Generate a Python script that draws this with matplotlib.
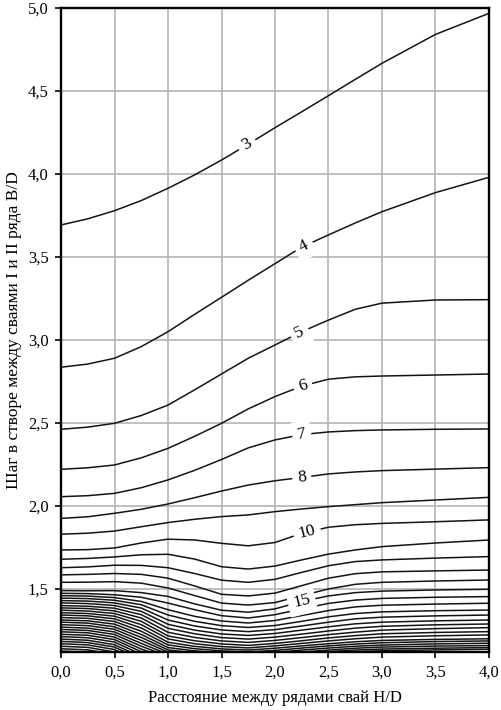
import numpy as np
import matplotlib.pyplot as plt

plt.rcParams['font.family'] = ['Liberation Serif', 'DejaVu Serif']

# узлы по оси H/D
X = [0, 0.25, 0.5, 0.75, 1.0, 1.25, 1.5, 1.75, 2.0, 2.25, 2.5, 2.75, 3.0, 3.5, 4.0]
X_LEFT = [0, 0.25, 0.5, 0.75, 1.0]

# изолинии (B/D в узлах X)
line_3 = [3.693, 3.73, 3.779, 3.84, 3.914, 3.995, 4.084, 4.18, 4.279, 4.375, 4.472, 4.57, 4.667, 4.841, 4.968]
line_4 = [2.836, 2.855, 2.89, 2.96, 3.05, 3.155, 3.257, 3.36, 3.46, 3.56, 3.633, 3.705, 3.773, 3.888, 3.98]
line_5 = [2.462, 2.475, 2.498, 2.545, 2.608, 2.70, 2.795, 2.89, 2.97, 3.05, 3.12, 3.185, 3.222, 3.241, 3.243]
line_6 = [2.221, 2.23, 2.247, 2.29, 2.347, 2.42, 2.498, 2.585, 2.659, 2.722, 2.764, 2.778, 2.783, 2.789, 2.795]
line_7 = [2.056, 2.062, 2.076, 2.11, 2.157, 2.215, 2.28, 2.35, 2.398, 2.43, 2.446, 2.454, 2.458, 2.462, 2.464]
line_8 = [1.925, 1.935, 1.956, 1.98, 2.012, 2.05, 2.09, 2.126, 2.152, 2.172, 2.193, 2.205, 2.213, 2.222, 2.231]
line_9 = [1.830, 1.836, 1.849, 1.875, 1.90, 1.92, 1.936, 1.946, 1.966, 1.982, 1.996, 2.008, 2.02, 2.036, 2.052]
line_10 = [1.735, 1.737, 1.747, 1.777, 1.80, 1.795, 1.775, 1.76, 1.78, 1.835, 1.872, 1.887, 1.895, 1.905, 1.916]
line_11 = [1.679, 1.684, 1.693, 1.706, 1.709, 1.68, 1.634, 1.62, 1.638, 1.675, 1.71, 1.735, 1.755, 1.777, 1.795]
line_12 = [1.628, 1.633, 1.643, 1.642, 1.628, 1.593, 1.553, 1.54, 1.558, 1.60, 1.64, 1.665, 1.675, 1.686, 1.695]
line_13 = [1.585, 1.588, 1.593, 1.588, 1.565, 1.518, 1.468, 1.458, 1.475, 1.52, 1.565, 1.592, 1.603, 1.609, 1.614]
line_14 = [1.540, 1.541, 1.544, 1.535, 1.506, 1.46, 1.415, 1.403, 1.418, 1.46, 1.50, 1.528, 1.54, 1.548, 1.554]
line_15 = [1.490, 1.489, 1.49, 1.478, 1.455, 1.41, 1.372, 1.36, 1.38, 1.425, 1.458, 1.478, 1.487, 1.494, 1.498]

# плотная группа внизу (16...30)
dense_lines = [
    [1.474, 1.472, 1.465, 1.45, 1.415, 1.375, 1.339, 1.325, 1.345, 1.38, 1.413, 1.433, 1.443, 1.45, 1.454],
    [1.46, 1.457, 1.448, 1.425, 1.375, 1.335, 1.307, 1.295, 1.31, 1.34, 1.37, 1.392, 1.402, 1.409, 1.414],
    [1.445, 1.442, 1.432, 1.405, 1.343, 1.305, 1.279, 1.268, 1.28, 1.305, 1.332, 1.352, 1.362, 1.369, 1.373],
    [1.43, 1.427, 1.416, 1.385, 1.313, 1.277, 1.253, 1.243, 1.255, 1.277, 1.30, 1.32, 1.33, 1.338, 1.343],
    [1.416, 1.412, 1.40, 1.365, 1.287, 1.252, 1.229, 1.22, 1.232, 1.252, 1.272, 1.29, 1.30, 1.308, 1.313],
    [1.40, 1.396, 1.384, 1.345, 1.263, 1.23, 1.207, 1.198, 1.21, 1.228, 1.247, 1.264, 1.275, 1.284, 1.289],
    [1.386, 1.382, 1.368, 1.325, 1.239, 1.208, 1.187, 1.178, 1.19, 1.207, 1.225, 1.24, 1.252, 1.261, 1.267],
    [1.372, 1.367, 1.352, 1.305, 1.217, 1.188, 1.169, 1.16, 1.172, 1.188, 1.205, 1.219, 1.23, 1.238, 1.243],
    [1.357, 1.352, 1.336, 1.285, 1.199, 1.17, 1.153, 1.145, 1.157, 1.172, 1.187, 1.20, 1.21, 1.218, 1.223],
    [1.343, 1.338, 1.32, 1.265, 1.179, 1.154, 1.139, 1.132, 1.143, 1.157, 1.17, 1.182, 1.19, 1.196, 1.20],
    [1.328, 1.323, 1.304, 1.245, 1.163, 1.14, 1.127, 1.12, 1.13, 1.144, 1.157, 1.168, 1.176, 1.183, 1.187],
    [1.313, 1.308, 1.288, 1.226, 1.147, 1.127, 1.115, 1.108, 1.118, 1.132, 1.144, 1.155, 1.162, 1.169, 1.173],
    [1.30, 1.294, 1.272, 1.208, 1.133, 1.115, 1.104, 1.097, 1.107, 1.12, 1.132, 1.143, 1.15, 1.156, 1.159],
    [1.285, 1.279, 1.257, 1.19, 1.12, 1.104, 1.094, 1.087, 1.097, 1.11, 1.122, 1.132, 1.138, 1.143, 1.147],
    [1.27, 1.264, 1.241, 1.172, 1.107, 1.093, 1.085, 1.078, 1.088, 1.10, 1.112, 1.122, 1.128, 1.133, 1.137],
]

# линии, видимые только слева (31...40)
left_lines = [
    [1.256, 1.25, 1.226, 1.155, 1.095],
    [1.242, 1.236, 1.21, 1.138, 1.083],
    [1.227, 1.221, 1.195, 1.122, 1.07],
    [1.213, 1.206, 1.18, 1.106, 1.06],
    [1.198, 1.191, 1.164, 1.09, 1.05],
    [1.184, 1.177, 1.15, 1.075, 1.04],
    [1.17, 1.163, 1.135, 1.06, 1.03],
    [1.155, 1.148, 1.12, 1.045, 1.02],
    [1.14, 1.133, 1.105, 1.03, 1.01],
    [1.126, 1.119, 1.09, 1.015, 1.0],
]

labeled = [('3', line_3, 1.74), ('4', line_4, 2.27), ('5', line_5, 2.23),
           ('6', line_6, 2.26), ('7', line_7, 2.25), ('8', line_8, 2.25),
           ('10', line_10, 2.30), ('15', line_15, 2.25)]
plain = [line_9, line_11, line_12, line_13, line_14]

x_ticks = [0, 0.5, 1.0, 1.5, 2.0, 2.5, 3.0, 3.5, 4.0]
y_ticks = [1.5, 2.0, 2.5, 3.0, 3.5, 4.0, 4.5, 5.0]

fig = plt.figure(figsize=(5.01, 7.10), dpi=100)
ax = fig.add_axes([0.1218, 0.0821, 0.8542, 0.9066])

lc = '#141414'
lw = 1.1
for _, ys, _ in labeled:
    ax.plot(X, ys, color=lc, lw=lw, zorder=3)
for ys in plain + dense_lines:
    ax.plot(X, ys, color=lc, lw=lw, zorder=3)
for ys in left_lines:
    ax.plot(X_LEFT, ys, color=lc, lw=lw, zorder=3)

ax.set_xlim(0, 4)
ax.set_ylim(1.122, 5.0)
ax.set_xticks(x_ticks)
ax.set_yticks(y_ticks)
ax.set_xticklabels([f'{v:.1f}'.replace('.', ',') for v in x_ticks], fontsize=12)
ax.set_yticklabels([f'{v:.1f}'.replace('.', ',') for v in y_ticks], fontsize=12)
ax.grid(True, color='#b4b4b4', lw=1.2, zorder=1)
ax.set_axisbelow(True)
ax.tick_params(direction='out', length=4, width=1.2, color='black', pad=5)
for s in ax.spines.values():
    s.set_linewidth(1.7)
    s.set_color('black')
    s.set_zorder(5)

ax.set_xlabel('Расстояние между рядами свай H/D', fontsize=12, labelpad=7)
ax.set_ylabel('Шаг в створе между сваями I и II ряда B/D', fontsize=12.5, labelpad=4)

# подписи изолиний с разрывом линии
fig.canvas.draw()
for txt, ys, xl in labeled:
    yl = np.interp(xl, X, ys)
    p0 = ax.transData.transform((xl - 0.1, np.interp(xl - 0.1, X, ys)))
    p1 = ax.transData.transform((xl + 0.1, np.interp(xl + 0.1, X, ys)))
    ang = np.degrees(np.arctan2(p1[1] - p0[1], p1[0] - p0[0]))
    ax.text(xl, yl, txt, fontsize=12.5, ha='center', va='center', rotation=ang,
            rotation_mode='anchor', zorder=4,
            bbox=dict(boxstyle='square,pad=0.3', fc='white', ec='none'))

fig.savefig('out.png', dpi=100)
